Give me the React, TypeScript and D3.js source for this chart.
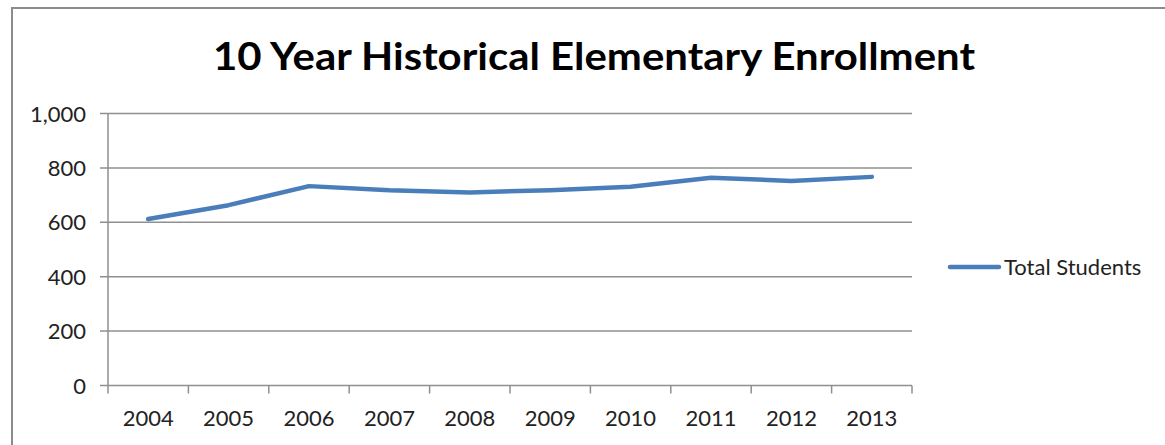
import React, { useRef, useEffect } from 'react';
import * as d3 from 'd3';

const years = ['2004', '2005', '2006', '2007', '2008', '2009', '2010', '2011', '2012', '2013'];
const totalStudents = [612, 663, 733, 718, 710, 718, 731, 764, 752, 767];
const yTicks = [0, 200, 400, 600, 800, 1000];
const seriesName = 'Total Students';
const title = '10 Year Historical Elementary Enrollment';

const W = 1165;
const H = 445;
const plot = { left: 108, right: 912, top: 113.5, bottom: 385.5 };

export default function App() {
  const ref = useRef<SVGSVGElement>(null);

  useEffect(() => {
    if (!ref.current) return;
    const svg = d3.select(ref.current);
    svg.selectAll('*').remove();

    svg.append('rect').attr('width', W).attr('height', H).attr('fill', '#fff');
    // chart border
    svg.append('rect')
      .attr('x', 12).attr('y', 8)
      .attr('width', W + 20).attr('height', H + 20)
      .attr('fill', 'none').attr('stroke', '#8c8c8c').attr('stroke-width', 2);

    svg.append('text')
      .attr('x', 594).attr('y', 70)
      .attr('text-anchor', 'middle')
      .attr('font-family', 'Lato, "Open Sans", sans-serif')
      .attr('font-weight', 'bold')
      .attr('font-size', 38)
      .attr('textLength', 762)
      .attr('lengthAdjust', 'spacingAndGlyphs')
      .attr('fill', '#000')
      .text(title);

    const x = d3.scaleBand().domain(years).range([plot.left, plot.right]);
    const y = d3.scaleLinear().domain([0, 1000]).range([plot.bottom, plot.top]);

    const font = 'Lato, "Open Sans", sans-serif';
    const fs = 22;

    // gridlines
    svg.append('g')
      .selectAll('line')
      .data(yTicks)
      .join('line')
      .attr('x1', plot.left - 8).attr('x2', plot.right)
      .attr('y1', (d) => y(d)).attr('y2', (d) => y(d))
      .attr('stroke', '#8f8f8f').attr('stroke-width', 1.5);

    // y axis line
    svg.append('line')
      .attr('x1', plot.left).attr('x2', plot.left)
      .attr('y1', plot.top).attr('y2', plot.bottom)
      .attr('stroke', '#8f8f8f').attr('stroke-width', 1.5);

    // y labels
    svg.append('g')
      .selectAll('text')
      .data(yTicks)
      .join('text')
      .attr('x', 86).attr('y', (d) => y(d) + 8)
      .attr('text-anchor', 'end')
      .attr('font-family', font).attr('font-size', fs)
      .attr('fill', '#222')
      .text((d) => d3.format(',')(d));

    // x ticks at band boundaries
    const bounds = years.map((d) => x(d) as number).concat([plot.right]);
    svg.append('g')
      .selectAll('line')
      .data(bounds)
      .join('line')
      .attr('x1', (d) => d).attr('x2', (d) => d)
      .attr('y1', plot.bottom).attr('y2', plot.bottom + 8)
      .attr('stroke', '#8f8f8f').attr('stroke-width', 1.5);

    // x labels
    svg.append('g')
      .selectAll('text')
      .data(years)
      .join('text')
      .attr('x', (d) => (x(d) as number) + x.bandwidth() / 2)
      .attr('y', 426)
      .attr('text-anchor', 'middle')
      .attr('font-family', font).attr('font-size', fs)
      .attr('fill', '#222')
      .text((d) => d);

    const line = d3.line<number>()
      .x((_, i) => (x(years[i]) as number) + x.bandwidth() / 2)
      .y((d) => y(d));

    svg.append('path')
      .datum(totalStudents)
      .attr('d', line)
      .attr('fill', 'none')
      .attr('stroke', '#4a7ebb')
      .attr('stroke-width', 4.5)
      .attr('stroke-linejoin', 'round')
      .attr('stroke-linecap', 'round');

    // legend
    svg.append('line')
      .attr('x1', 950).attr('x2', 999)
      .attr('y1', 267).attr('y2', 267)
      .attr('stroke', '#4a7ebb').attr('stroke-width', 4.5)
      .attr('stroke-linecap', 'round');
    svg.append('text')
      .attr('x', 1004).attr('y', 275)
      .attr('font-family', font).attr('font-size', fs)
      .attr('fill', '#222')
      .text(seriesName);
  }, []);

  return (
    <svg
      ref={ref}
      width={W}
      height={H}
      style={{ position: 'absolute', left: 0, top: 0, display: 'block' }}
    />
  );
}
